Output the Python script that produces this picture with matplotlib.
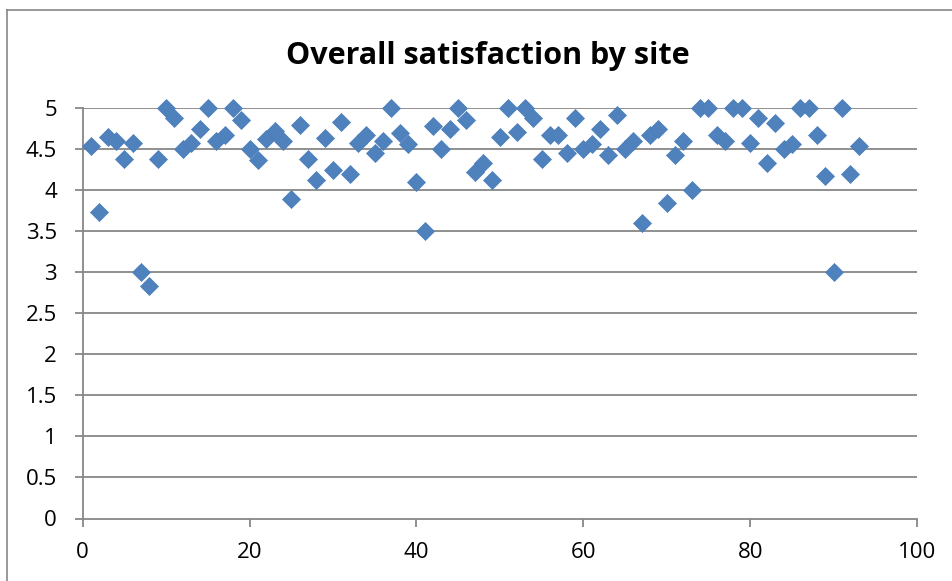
import matplotlib
matplotlib.use("Agg")
import matplotlib.pyplot as plt
from matplotlib.lines import Line2D

site = list(range(1, 94))
satisfaction = [
    4.54, 3.73, 4.65, 4.60, 4.38, 4.58, 3.00, 2.83, 4.38, 5.00,
    4.88, 4.50, 4.58, 4.75, 5.00, 4.60, 4.67, 5.00, 4.86, 4.50,
    4.37, 4.63, 4.72, 4.60, 3.89, 4.80, 4.38, 4.13, 4.64, 4.25,
    4.83, 4.20, 4.58, 4.67, 4.45, 4.60, 5.00, 4.70, 4.57, 4.10,
    3.50, 4.78, 4.50, 4.75, 5.00, 4.86, 4.22, 4.33, 4.13, 4.65,
    5.00, 4.71, 5.00, 4.88, 4.38, 4.67, 4.67, 4.45, 4.88, 4.50,
    4.57, 4.75, 4.43, 4.92, 4.50, 4.60, 3.60, 4.67, 4.75, 3.85,
    4.43, 4.60, 4.00, 5.00, 5.00, 4.67, 4.60, 5.00, 5.00, 4.58,
    4.88, 4.33, 4.82, 4.50, 4.56, 5.00, 5.00, 4.67, 4.17, 3.00,
    5.00, 4.20, 4.54,
]
title = "Overall satisfaction by site"
x_ticks = [0, 20, 40, 60, 80, 100]
y_ticks = [0, 0.5, 1, 1.5, 2, 2.5, 3, 3.5, 4, 4.5, 5]
y_tick_labels = ["0", "0.5", "1", "1.5", "2", "2.5", "3", "3.5", "4", "4.5", "5"]

W, H = 952, 581
fig = plt.figure(figsize=(W / 100, H / 100), dpi=100)
fig.patch.set_facecolor("white")

grey = "#878787"

# chart border (cropped at right/bottom)
fig.add_artist(Line2D([7 / W, 7 / W], [0, 1 - 10 / H], transform=fig.transFigure,
                      color=grey, lw=1.2))
fig.add_artist(Line2D([7 / W, 1], [1 - 10 / H, 1 - 10 / H], transform=fig.transFigure,
                      color=grey, lw=1.2))

left, right = 82.7, 917.0
top, bottom = 108.3, 518.5
ax = fig.add_axes([left / W, 1 - bottom / H, (right - left) / W, (bottom - top) / H])

ax.set_xlim(0, 100)
ax.set_ylim(0, 5)

for yv in y_ticks[1:]:
    ax.axhline(yv, color=grey, lw=1.3, zorder=1)

ax.plot(site, satisfaction, linestyle="none", marker="D", markersize=9.6,
        markerfacecolor="#4f81bd", markeredgecolor="#4a7ebb", markeredgewidth=0.5,
        zorder=3, clip_on=False)

for s in ["top", "right"]:
    ax.spines[s].set_visible(False)
for s in ["left", "bottom"]:
    ax.spines[s].set_color(grey)
    ax.spines[s].set_linewidth(1.3)
    ax.spines[s].set_zorder(2)

ax.set_xticks(x_ticks)
ax.set_xticklabels([str(v) for v in x_ticks])
ax.set_yticks(y_ticks)
ax.set_yticklabels(y_tick_labels)
ax.tick_params(axis="both", direction="out", length=5.6, width=1.3, color=grey,
               labelsize=16, labelcolor="black")
ax.tick_params(axis="y", pad=13)
ax.tick_params(axis="x", pad=11)
for lab in ax.get_xticklabels() + ax.get_yticklabels():
    lab.set_family(["Open Sans", "DejaVu Sans"])

fig.text(487.5 / W, 1 - 64.3 / H, title, ha="center", va="baseline",
         fontsize=22, fontweight="bold", family=["Open Sans", "DejaVu Sans"], color="black")

fig.savefig("out.png", dpi=100)
